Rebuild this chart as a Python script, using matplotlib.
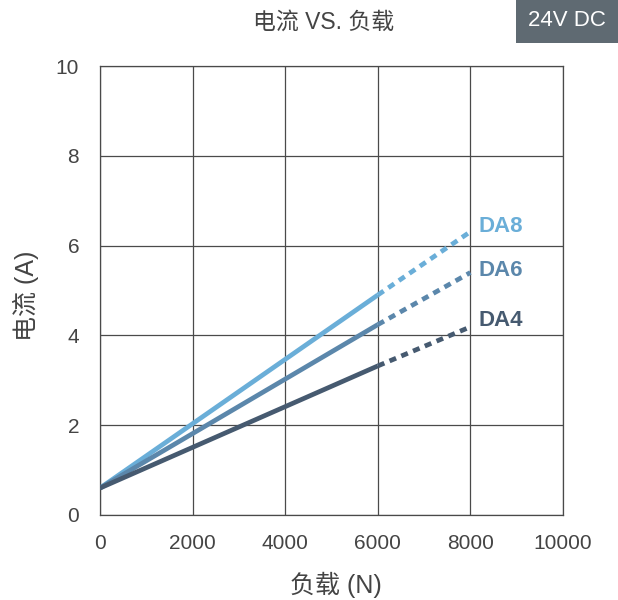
import matplotlib.pyplot as plt
from matplotlib.patches import Rectangle

plt.rcParams['font.family'] = ['Liberation Sans', 'Noto Sans CJK SC', 'DejaVu Sans']

# Data
models = ["DA8", "DA6", "DA4"]
colors = ["#6aaed8", "#5b87ab", "#465a70"]
load_solid = [0, 6000]
load_dash = [6000, 8000]
current_start = [0.6, 0.6, 0.6]
current_6000 = [4.9, 4.24, 3.32]
current_8000 = [6.31, 5.40, 4.19]
label_y = [6.42, 5.44, 4.33]

x_ticks = [0, 2000, 4000, 6000, 8000, 10000]
y_ticks = [0, 2, 4, 6, 8, 10]

text_color = "#444444"
grid_color = "#4a4a4a"

W, H = 618, 600
fig = plt.figure(figsize=(W / 100, H / 100), dpi=100)
ax = fig.add_axes([100 / W, 85 / H, 463 / W, 449 / H])

for name, c, y0, y6, y8, ly in zip(models, colors, current_start, current_6000,
                                    current_8000, label_y):
    ax.plot(load_solid, [y0, y6], color=c, lw=3.4, solid_capstyle='butt', zorder=3)
    ax.plot(load_dash, [y6, y8], color=c, lw=3.4, dashes=(1.5, 1.2), zorder=3)
    ax.text(8180, ly, name, color=c, fontsize=16, fontweight='bold',
            ha='left', va='center')

ax.set_xlim(0, 10000)
ax.set_ylim(0, 10)
ax.set_xticks(x_ticks)
ax.set_yticks(y_ticks)
ax.grid(True, color=grid_color, lw=0.9)
for s in ax.spines.values():
    s.set_color(grid_color)
    s.set_linewidth(0.9)
ax.tick_params(length=0, labelsize=15, labelcolor=text_color)
ax.tick_params(axis='x', pad=14)
ax.tick_params(axis='y', pad=15)

ax.set_xlabel("负载 (N)", fontsize=18, color=text_color, va='center')
ax.xaxis.set_label_coords((336 - 100) / 463, (515 - 585) / 449)
ax.set_ylabel("电流 (A)", fontsize=18, color=text_color, va='center')
ax.yaxis.set_label_coords((26 - 100) / 463, (515 - 296) / 449)

fig.text(324 / W, 1 - 22 / H, "电流 VS. 负载", fontsize=16.5, color=text_color,
         ha='center', va='center')

# "24V DC" badge in the top-right corner
fig.add_artist(Rectangle((516 / W, 1 - 43 / H), 102 / W, 43 / H,
                         transform=fig.transFigure, facecolor='#5f6a72',
                         edgecolor='none'))
fig.text(567 / W, 1 - 21 / H, "24V DC", fontsize=16, color='white',
         ha='center', va='center')

fig.savefig("out.png", dpi=100)
